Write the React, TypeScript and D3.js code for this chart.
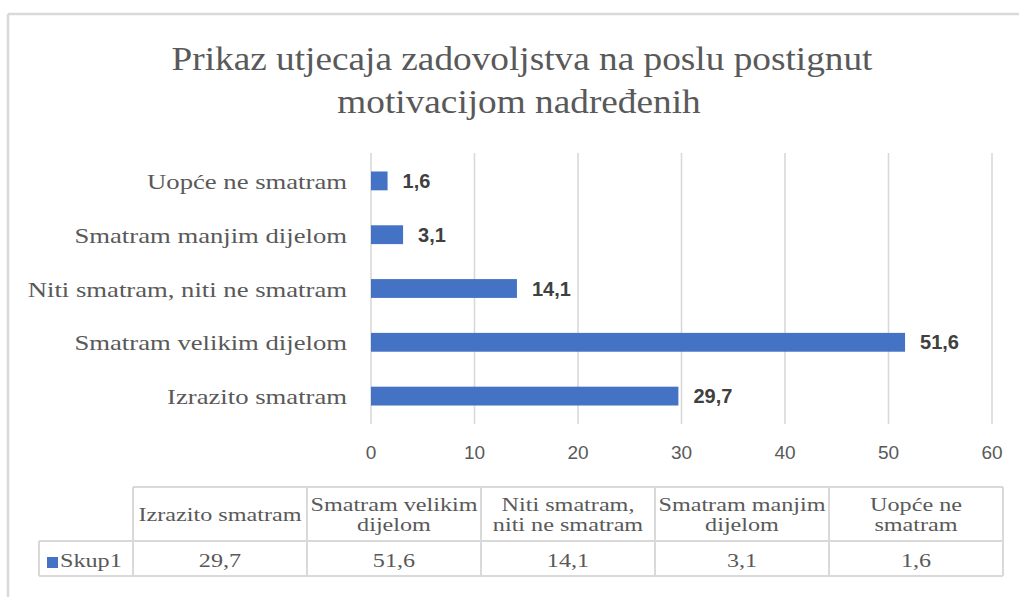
import React from "react";
import * as d3 from "d3";

const title = ["Prikaz utjecaja zadovoljstva na poslu postignut", "motivacijom nadređenih"];
const categories = [
  "Izrazito smatram",
  "Smatram velikim dijelom",
  "Niti smatram, niti ne smatram",
  "Smatram manjim dijelom",
  "Uopće ne smatram",
];
const values = [29.7, 51.6, 14.1, 3.1, 1.6];
const headerLines = [
  ["Izrazito smatram"],
  ["Smatram velikim", "dijelom"],
  ["Niti smatram,", "niti ne smatram"],
  ["Smatram manjim", "dijelom"],
  ["Uopće ne", "smatram"],
];
const seriesName = "Skup1";
const xTicks = [0, 10, 20, 30, 40, 50, 60];

const W = 1019;
const H = 597;
const SERIF = "Liberation Serif, Times New Roman, serif";
const SANS = "Liberation Sans, Arial, sans-serif";
const BLUE = "#4472C4";
const GRID = "#d9d9d9";
const TXT = "#595959";

const fmt = (v: number) => d3.format(".1f")(v).replace(".", ",");

function SText(props: {
  x: number; y: number; sx: number; size: number; anchor?: string; fill?: string; children: React.ReactNode;
}) {
  const { x, y, sx, size, anchor = "start", fill = TXT } = props;
  return (
    <text
      transform={`translate(${x},${y}) scale(${sx},1)`}
      textAnchor={anchor as any}
      style={{ fontFamily: SERIF, fontSize: size }}
      fill={fill}
    >
      {props.children}
    </text>
  );
}

export default function App() {
  const x = d3.scaleLinear().domain([0, 60]).range([371, 992]);
  const y = d3
    .scaleBand<string>()
    .domain([...categories].reverse())
    .range([154, 423])
    .paddingInner(0.65)
    .paddingOuter(0.325);
  const col = d3.scaleBand<string>().domain(categories).range([133, 1003]);

  const tableTop = 487;
  const rowDiv = 541;
  const tableBottom = 576;
  const legendLeft = 39;

  return (
    <svg width={W} height={H} style={{ position: "absolute", left: 0, top: 0, background: "#fff" }}>
      <rect x={0} y={0} width={W} height={H} fill="#fff" />
      {/* frame */}
      <line x1={8} x2={W} y1={14} y2={14} stroke={GRID} strokeWidth={2.5} />
      <line x1={8} x2={8} y1={14} y2={H} stroke={GRID} strokeWidth={2.5} />

      {/* title */}
      <SText x={522} y={70} sx={1.13} size={33} anchor="middle">{title[0]}</SText>
      <SText x={519} y={113} sx={1.13} size={33} anchor="middle">{title[1]}</SText>

      {/* gridlines */}
      {xTicks.map((t) => (
        <line key={t} x1={x(t)} x2={x(t)} y1={153} y2={424} stroke={GRID} strokeWidth={1.6} />
      ))}

      {/* bars */}
      {categories.map((c, i) => (
        <g key={c}>
          <rect x={x(0)} y={y(c)!} width={x(values[i]) - x(0)} height={y.bandwidth()} fill={BLUE} />
          <text
            x={x(values[i]) + 15}
            y={y(c)! + y.bandwidth() / 2 + 7}
            style={{ fontFamily: SANS, fontWeight: "bold", fontSize: 20 }}
            fill="#404040"
          >
            {fmt(values[i])}
          </text>
          <SText x={347} y={y(c)! + y.bandwidth() / 2 + 8} sx={1.27} size={21} anchor="end">
            {c}
          </SText>
        </g>
      ))}

      {/* x tick labels */}
      {xTicks.map((t) => (
        <text key={t} x={x(t)} y={459} textAnchor="middle" style={{ fontFamily: SANS, fontSize: 19 }} fill={TXT}>
          {t}
        </text>
      ))}

      {/* data table */}
      <g stroke={GRID} strokeWidth={2} fill="none">
        <line x1={133} x2={1003} y1={tableTop} y2={tableTop} />
        <line x1={legendLeft} x2={1003} y1={rowDiv} y2={rowDiv} />
        <line x1={legendLeft} x2={1003} y1={tableBottom} y2={tableBottom} />
        <line x1={legendLeft} x2={legendLeft} y1={rowDiv} y2={tableBottom} />
        <line x1={133} x2={133} y1={tableTop} y2={tableBottom} />
        {categories.map((c) => (
          <line key={c} x1={col(c)! + col.bandwidth()} x2={col(c)! + col.bandwidth()} y1={tableTop} y2={tableBottom} />
        ))}
      </g>
      {categories.map((c, i) => {
        const cx = col(c)! + col.bandwidth() / 2;
        const lines = headerLines[i];
        const mid = (tableTop + rowDiv) / 2;
        const lh = 20;
        return (
          <g key={c}>
            {lines.map((ln, j) => (
              <SText
                key={j}
                x={cx}
                y={mid + 7 + (j - (lines.length - 1) / 2) * lh}
                sx={1.24}
                size={19.5}
                anchor="middle"
              >
                {ln}
              </SText>
            ))}
            <SText x={cx} y={567} sx={1.24} size={19.5} anchor="middle">
              {fmt(values[i])}
            </SText>
          </g>
        );
      })}
      <rect x={47} y={557} width={11} height={11} fill={BLUE} />
      <SText x={60} y={567} sx={1.24} size={19.5}>{seriesName}</SText>
    </svg>
  );
}
